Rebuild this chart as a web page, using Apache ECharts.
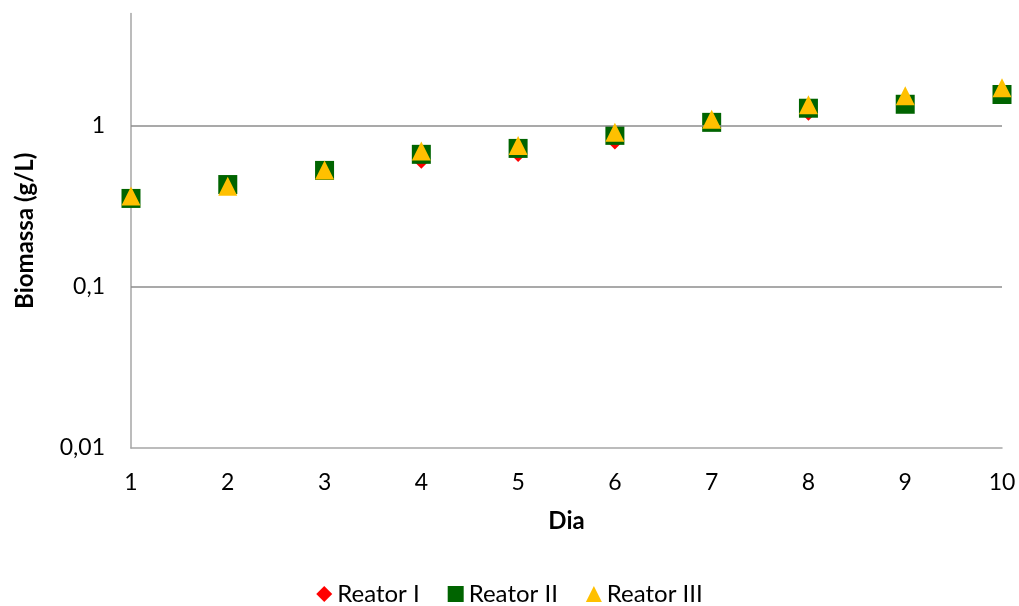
<!DOCTYPE html>
<html>
<head>
<meta charset="utf-8">
<script src="https://cdn.jsdelivr.net/npm/echarts@6/dist/echarts.min.js"></script>
<style>
  html, body { margin: 0; padding: 0; background: #ffffff; }
  #chart { width: 1019px; height: 606px; }
</style>
</head>
<body>
<div id="chart"></div>
<script>
// Days of cultivation
const dias = ['1', '2', '3', '4', '5', '6', '7', '8', '9', '10'];

// Biomass concentration (g/L) per reactor
const reatorI   = [0.37, 0.43, 0.54, 0.60, 0.66, 0.79, 1.05, 1.19, 1.37, 1.60];
const reatorII  = [0.355, 0.433, 0.530, 0.667, 0.726, 0.875, 1.054, 1.29, 1.365, 1.57];
const reatorIII = [0.367, 0.422, 0.533, 0.699, 0.758, 0.914, 1.10, 1.355, 1.54, 1.73];

// Log-axis reference lines
const gridLines = [0.1, 1];

const FONT = 'Lato';

// Decimal comma labels, only on powers of ten
function fmtLog(v) {
  const l = Math.log10(v);
  if (Math.abs(l - Math.round(l)) > 1e-6) return '';
  return String(Number(v.toPrecision(6))).replace('.', ',');
}

const chart = echarts.init(document.getElementById('chart'), null, { renderer: 'canvas' });

chart.setOption({
  animation: false,
  backgroundColor: '#ffffff',
  textStyle: { fontFamily: FONT },
  grid: { left: 131, right: 17, top: 13.5, bottom: 158, containLabel: false },
  legend: {
    top: 577,
    left: 'center',
    padding: 0,
    itemWidth: 16,
    itemHeight: 16,
    itemGap: 28,
    textStyle: { fontFamily: FONT, fontSize: 24, lineHeight: 34, color: '#000000' },
    data: [
      { name: 'Reator I', icon: 'diamond', itemStyle: { color: '#ff0000', opacity: 1 } },
      { name: 'Reator II', icon: 'rect', itemStyle: { color: '#006400', opacity: 1 } },
      { name: 'Reator III', icon: 'triangle', itemStyle: { color: '#ffc000', opacity: 1 } }
    ]
  },
  xAxis: {
    type: 'category',
    data: dias,
    boundaryGap: false,
    name: 'Dia',
    nameLocation: 'middle',
    nameGap: 61,
    nameTextStyle: { fontFamily: FONT, fontSize: 24, fontWeight: 'bold', color: '#000000' },
    axisLine: { lineStyle: { color: '#a6a6a6', width: 1.5 } },
    axisTick: { show: false },
    axisLabel: { fontFamily: FONT, fontSize: 23, color: '#000000', margin: 23 },
    splitLine: { show: false }
  },
  yAxis: {
    type: 'log',
    logBase: 10,
    min: 0.01,
    max: 5,
    name: 'Biomassa (g/L)',
    nameLocation: 'middle',
    nameGap: 94,
    nameTextStyle: { fontFamily: FONT, fontSize: 24, fontWeight: 'bold', color: '#000000' },
    axisLine: { show: true, lineStyle: { color: '#a6a6a6', width: 1.5 } },
    axisTick: { show: false },
    axisLabel: {
      fontFamily: FONT, fontSize: 23, color: '#000000', margin: 26,
      showMaxLabel: false,
      formatter: fmtLog
    },
    splitLine: { show: false }
  },
  series: [
    {
      name: 'Reator I',
      type: 'scatter',
      data: reatorI,
      symbol: 'diamond',
      symbolSize: 14,
      itemStyle: { color: '#ff0000', opacity: 1 },
      z: 3,
      markLine: {
        silent: true,
        symbol: ['none', 'none'],
        label: { show: false },
        lineStyle: { color: '#8c8c8c', width: 1.5, type: 'solid' },
        data: gridLines.map(v => ({ yAxis: v }))
      }
    },
    {
      name: 'Reator II',
      type: 'scatter',
      data: reatorII,
      symbol: 'rect',
      symbolSize: 19,
      itemStyle: { color: '#006400', opacity: 1 },
      z: 4
    },
    {
      name: 'Reator III',
      type: 'scatter',
      data: reatorIII,
      symbol: 'triangle',
      symbolSize: 19,
      itemStyle: { color: '#ffc000', opacity: 1 },
      z: 5
    }
  ]
});
</script>
</body>
</html>
